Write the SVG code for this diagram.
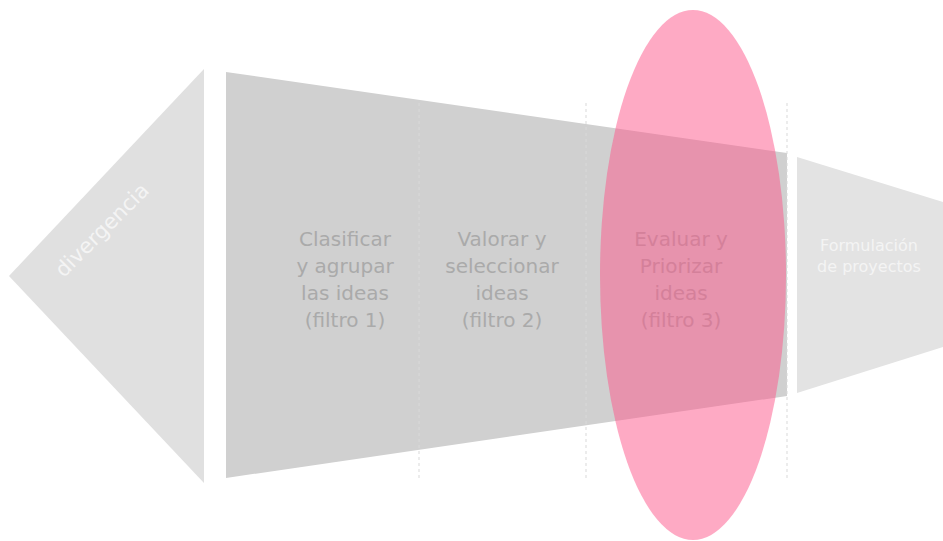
<svg xmlns="http://www.w3.org/2000/svg" width="943" height="541" viewBox="0 0 943 541">
<style>
.lbl{font-family:"DejaVu Sans","Verdana",sans-serif;font-size:20px;fill:#aaaaaa;text-anchor:middle}
.wl{font-family:"DejaVu Sans","Verdana",sans-serif;fill:#f4f4f4;text-anchor:middle}
.dash{stroke:#d9d9d9;stroke-width:1;stroke-dasharray:3 3;fill:none}
</style>
<rect width="943" height="541" fill="#ffffff"/>
<g id="divergencia">
<polygon points="9,276 204,69 204,483" fill="#e0e0e0"/>
<text class="wl" font-size="21" transform="translate(107,235) rotate(-45)">divergencia</text>
</g>
<g id="embudo">
<polygon points="226,72 787,153 787,396 226,478" fill="#d0d0d0"/>
</g>
<g id="formulacion">
<polygon points="797,157 943,202 943,347 797,393" fill="#e3e3e3"/>
<text class="wl" font-size="16" x="869" y="251">Formulación</text>
<text class="wl" font-size="16" x="869" y="272">de proyectos</text>
</g>
<g id="connectors">
<line class="dash" x1="419" y1="103" x2="419" y2="479"/>
<line class="dash" x1="586" y1="103" x2="586" y2="479"/>
<line class="dash" x1="787" y1="103" x2="787" y2="479"/>
</g>
<g id="filtro1">
<text class="lbl" x="345" y="246">Clasificar</text>
<text class="lbl" x="345" y="273">y agrupar</text>
<text class="lbl" x="345" y="300">las ideas</text>
<text class="lbl" x="345" y="327">(filtro 1)</text>
</g>
<g id="filtro2">
<text class="lbl" x="502" y="246">Valorar y</text>
<text class="lbl" x="502" y="273">seleccionar</text>
<text class="lbl" x="502" y="300">ideas</text>
<text class="lbl" x="502" y="327">(filtro 2)</text>
</g>
<g id="filtro3">
<text class="lbl" x="681" y="246">Evaluar y</text>
<text class="lbl" x="681" y="273">Priorizar</text>
<text class="lbl" x="681" y="300">ideas</text>
<text class="lbl" x="681" y="327">(filtro 3)</text>
<ellipse cx="693" cy="275" rx="93" ry="265" fill="#fd5589" fill-opacity="0.5"/>
</g>
</svg>
